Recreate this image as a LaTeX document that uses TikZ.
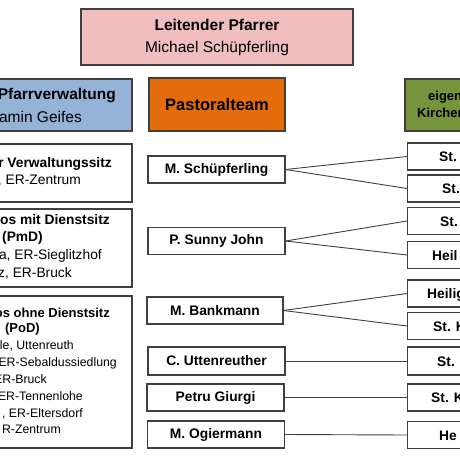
\documentclass[tikz,border=0pt]{standalone}
\usepackage{fontspec}
\setmainfont{Liberation Sans}
\definecolor{boxline}{HTML}{3F3F3F}
\definecolor{pinkfill}{HTML}{F0BEBE}
\definecolor{bluefill}{HTML}{95B3D7}
\definecolor{orangefill}{HTML}{E46C0A}
\definecolor{greenfill}{HTML}{77933C}
\definecolor{connline}{HTML}{404040}
\begin{document}
\begin{tikzpicture}[x=1pt,y=-1pt,
  box/.style={draw=boxline, line width=1.1pt, inner sep=0pt, rectangle},
  namebox/.style={box, fill=white, minimum width=137pt, minimum height=27pt,
    font=\bfseries\fontsize{13.8}{16}\selectfont},
  rbox/.style={box, fill=white, anchor=west, minimum width=100pt, minimum height=27pt},
  rtext/.style={inner sep=0pt, anchor=base west, font=\bfseries\fontsize{13.8}{16}\selectfont},
  ltext/.style={inner sep=0pt, anchor=base east, font=\fontsize{13.8}{16}\selectfont},
  lsmall/.style={inner sep=0pt, anchor=base east, font=\fontsize{12.3}{15}\selectfont},
  conn/.style={draw=connline, line width=0.9pt}]
\useasboundingbox (0,0) rectangle (460,460);
\clip (0,0) rectangle (460,460);
\fill[white] (0,0) rectangle (460,460);

% header boxes
\node[box, fill=pinkfill, minimum width=272pt, minimum height=56pt, align=center,
  font=\fontsize{15.5}{22}\selectfont] (top) at (217,37)
  {\textbf{Leitender Pfarrer}\\Michael Schüpferling};
\node[box, fill=bluefill, minimum width=212pt, minimum height=52pt] (blue) at (26,105) {};
\node[inner sep=0pt, anchor=base east, font=\bfseries\fontsize{15.5}{18}\selectfont] (bluea) at (116,99) {Pfarrverwaltung};
\node[inner sep=0pt, anchor=base east, font=\fontsize{15.5}{18}\selectfont] (blueb) at (82,122) {amin Geifes};
\node[box, fill=orangefill, minimum width=136pt, minimum height=53pt,
  font=\bfseries\fontsize{16.5}{19}\selectfont] (orange) at (217,104.5) {Pastoralteam};
\node[box, fill=greenfill, minimum width=135pt, minimum height=52pt] (green) at (472.5,105) {};
\node[inner sep=0pt, anchor=base west, font=\bfseries\fontsize{13}{15}\selectfont] (greena) at (428,100.5) {eigen};
\node[inner sep=0pt, anchor=base west, font=\bfseries\fontsize{13}{15}\selectfont] (greenb) at (417,117) {Kirchen};

% left column
\node[box, fill=white, minimum width=212pt, minimum height=58pt] (l1) at (26,173) {};
\node[ltext, font=\bfseries\fontsize{13.8}{16}\selectfont] (l1a) at (112,167) {r Verwaltungssitz};
\node[ltext] (l1b) at (81,184) {, ER-Zentrum};

\node[box, fill=white, minimum width=212pt, minimum height=78pt] (l2) at (26,248) {};
\node[ltext, font=\bfseries\fontsize{13.8}{16}\selectfont] (l2a) at (110,224.5) {os mit Dienstsitz};
\node[ltext, font=\bfseries\fontsize{13.8}{16}\selectfont] (l2b) at (43,241) {(PmD)};
\node[ltext] (l2c) at (102,259.5) {a, ER-Sieglitzhof};
\node[ltext] (l2d) at (72,277.5) {z, ER-Bruck};

\node[box, fill=white, minimum width=212pt, minimum height=152pt] (l3) at (26,372) {};
\node[lsmall, font=\bfseries\fontsize{13}{15}\selectfont] (l3a) at (110,317.5) {os ohne Dienstsitz};
\node[lsmall, font=\bfseries\fontsize{13}{15}\selectfont] (l3b) at (40,332.5) {(PoD)};
\node[lsmall] (l3c) at (74,349) {le, Uttenreuth};
\node[lsmall] (l3d) at (117,366) {ER-Sebaldussiedlung};
\node[lsmall] (l3e) at (47,383.5) {ER-Bruck};
\node[lsmall] (l3f) at (83,400.5) {ER-Tennenlohe};
\node[lsmall] (l3g) at (83,417.5) {, ER-Eltersdorf};
\node[lsmall] (l3h) at (61,433) {R-Zentrum};

% middle column
\node[namebox] (m1) at (216.5,169.5) {M. Schüpferling};
\node[namebox] (m2) at (216.5,241) {P. Sunny John};
\node[namebox, minimum width=136pt] (m3) at (215,310.5) {M. Bankmann};
\node[namebox, minimum height=28pt] (m4) at (216.5,361) {C. Uttenreuther};
\node[namebox] (m5) at (215.5,397.5) {Petru Giurgi};
\node[namebox] (m6) at (216,434.5) {M. Ogiermann};

% right column
\node[rbox] (ra) at (407,156.5) {};
\node[rbox] (rb) at (407,188.5) {};
\node[rbox] (rc) at (407,221) {};
\node[rbox] (rd) at (407,255) {};
\node[rbox] (re) at (407,293.5) {};
\node[rbox] (rf) at (407,326) {};
\node[rbox, minimum height=28pt] (rg) at (407,361) {};
\node[rbox] (rh) at (407,397.5) {};
\node[rbox] (ri) at (407,435) {};
\node[rtext] (rat) at (439,161.5) {St.};
\node[rtext] (rbt) at (442,193.5) {St.};
\node[rtext] (rct) at (440,226) {St.};
\node[rtext] (rdt) at (432,260) {Heil};
\node[rtext] (ret) at (427,298.5) {Heilig};
\node[rtext] (rft) at (433,331) {St. K};
\node[rtext] (rgt) at (437,366) {St.};
\node[rtext] (rht) at (431,402.5) {St. K};
\node[rtext] (rit) at (439,440) {He};

% connectors
\draw[conn] (m1.east) -- (ra.west);
\draw[conn] (m1.east) -- (rb.west);
\draw[conn] (m2.east) -- (rc.west);
\draw[conn] (m2.east) -- (rd.west);
\draw[conn] (m3.east) -- (re.west);
\draw[conn] (m3.east) -- (rf.west);
\draw[conn] (m4.east) -- (rg.west);
\draw[conn] (m5.east) -- (rh.west);
\draw[conn] (m6.east) -- (ri.west);
\end{tikzpicture}
\end{document}
